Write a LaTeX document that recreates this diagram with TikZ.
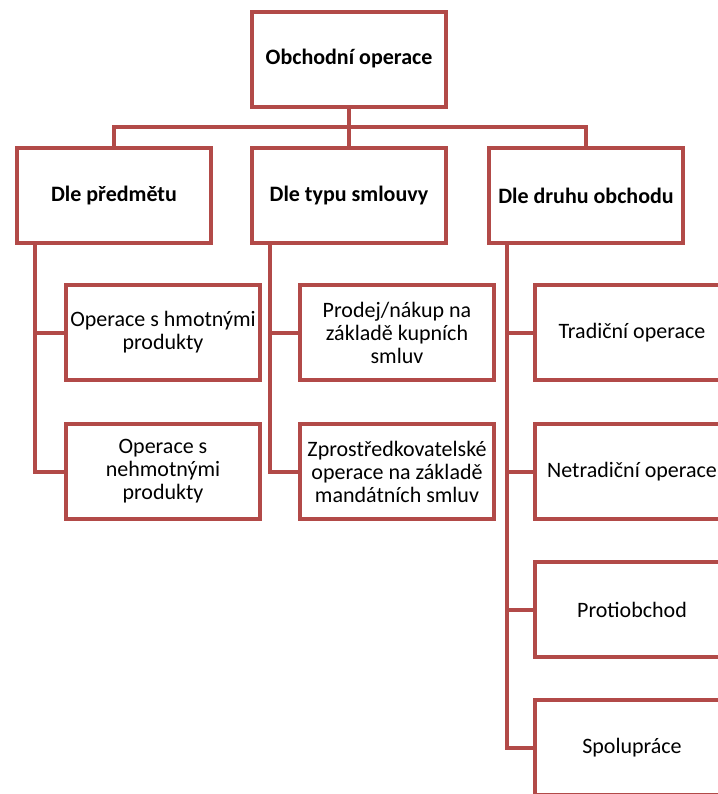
\documentclass[tikz,border=0pt]{standalone}
\usepackage{fontspec}
\setmainfont{Carlito}
\definecolor{linkred}{RGB}{178,74,72}
\tikzset{
  box/.style={draw=linkred, line width=2pt, fill=white, minimum width=97pt,
    minimum height=47.5pt, align=center, inner sep=2pt,
    font=\fontsize{11}{11.5}\selectfont},
  headbox/.style={box, font=\fontsize{11}{11.5}\selectfont\bfseries},
  link/.style={draw=linkred, line width=2pt}
}
\begin{document}
\begin{tikzpicture}[x=0.5pt,y=-0.5pt]
    \useasboundingbox (0,0) rectangle (718,794);
    \clip (0,0) rectangle (718,794);
    % levels
    \node [headbox] (top) at (349,59) {Obchodní operace};
    \node [headbox] (subj) at (114,195.5) {Dle předmětu};
    \node [headbox] (contract) at (349,195.5) {Dle typu smlouvy};
    \node [headbox] (trade) at (586,195.5) {Dle druhu obchodu};
    \node [box] (tangible) at (163,332.5) {Operace s hmotnými\\produkty};
    \node [box] (intangible) at (163,471.5) {Operace s\\nehmotnými\\produkty};
    \node [box] (sale) at (397,332.5) {Prodej/nákup na\\základě kupních\\smluv};
    \node [box] (agency) at (397,471.5) {Zprostředkovatelské\\operace na základě\\mandátních smluv};
    \node [box] (trad) at (632,332.5) {Tradiční operace};
    \node [box] (nontrad) at (632,471.5) {Netradiční operace};
    \node [box] (counter) at (632,609.5) {Protiobchod};
    \node [box] (coop) at (632,747.5) {Spolupráce};
    % connectors
    \coordinate (bus) at (349,127);
    \draw [link] (top) -- (contract);
    \draw [link] (subj.north) |- (bus) -| (trade.north);
    \draw [link] ([xshift=10pt]subj.south west) |- (tangible.west);
    \draw [link] ([xshift=10pt]subj.south west) |- (intangible.west);
    \draw [link] ([xshift=10pt]contract.south west) |- (sale.west);
    \draw [link] ([xshift=10pt]contract.south west) |- (agency.west);
    \draw [link] ([xshift=10pt]trade.south west) |- (trad.west);
    \draw [link] ([xshift=10pt]trade.south west) |- (nontrad.west);
    \draw [link] ([xshift=10pt]trade.south west) |- (counter.west);
    \draw [link] ([xshift=10pt]trade.south west) |- (coop.west);
\end{tikzpicture}
\end{document}
